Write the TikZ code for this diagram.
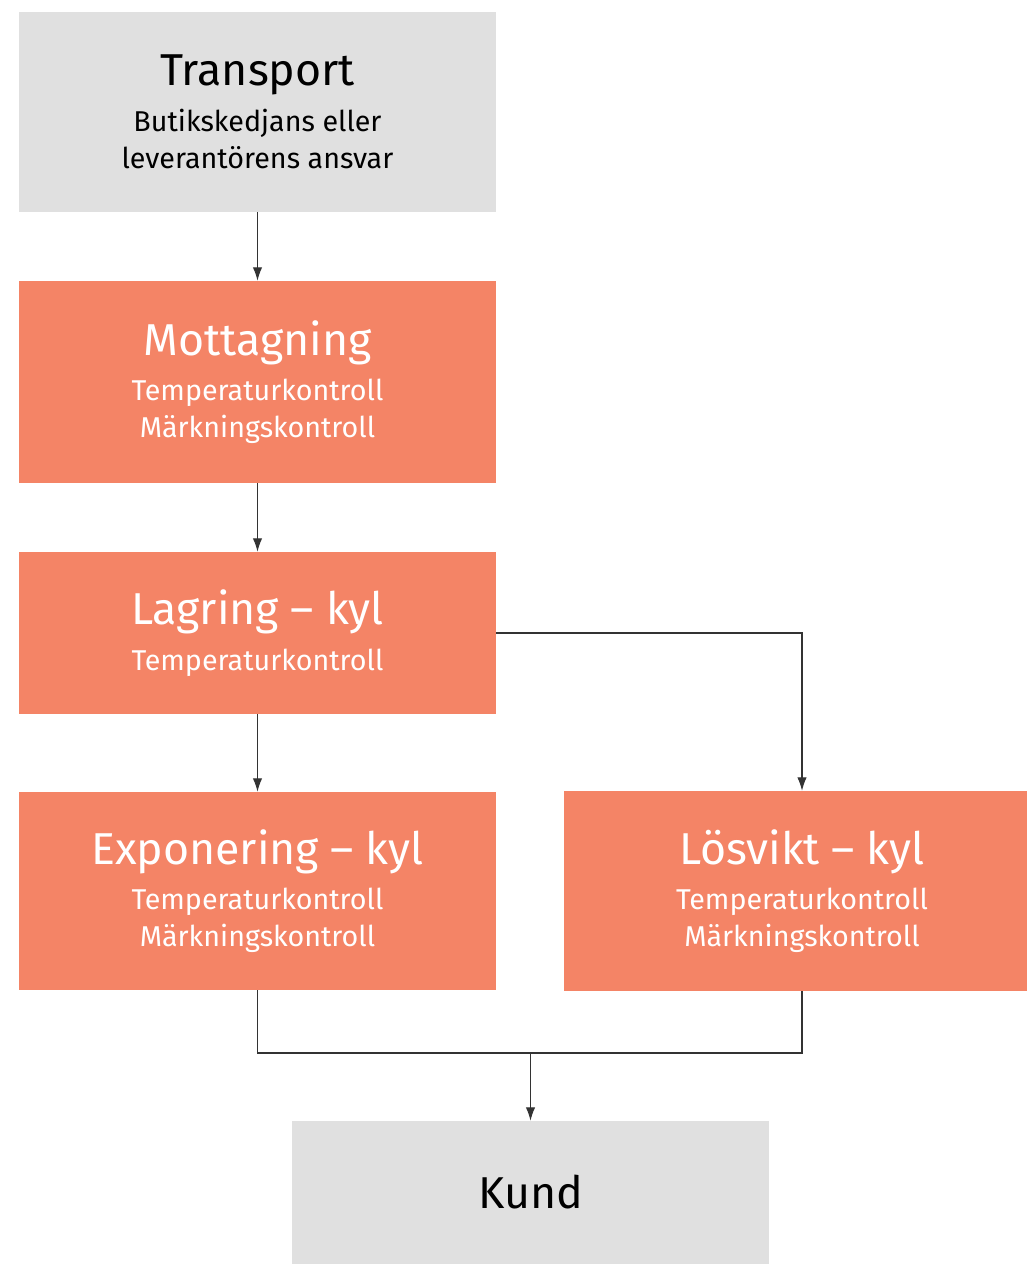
\documentclass[tikz,border=0pt]{standalone}
\usepackage{fontspec}
\setmainfont{Fira Sans}
\usetikzlibrary{shapes,arrows.meta,positioning}
\usepackage{xcolor}
\definecolor{ljusgra}{HTML}{E0E0E0}
\definecolor{laxrosa}{HTML}{F48466}
\definecolor{linje}{HTML}{333333}

\begin{document}
\begin{tikzpicture}[x=0.75pt, y=-0.75pt,
        box/.style={rectangle, minimum width=357.75pt, minimum height=150pt, inner sep=0pt, align=center,
            font=\fontsize{21.5}{28}\selectfont},
        grabox/.style={box, fill=ljusgra, text=black},
        orangebox/.style={box, fill=laxrosa, text=white},
        pil/.style={draw=linje, line width=0.8pt, -{Latex[length=10pt,width=7pt]}},
        linjer/.style={draw=linje, line width=0.8pt}]
        \useasboundingbox (0,0) rectangle (1027,1264);

        \newcommand{\rubrik}[1]{{\fontsize{33.5}{33.5}\selectfont #1}}

        \node[grabox] (transport) at (257.5,112) {\rubrik{Transport}\\[6pt]Butikskedjans eller\\leverantörens ansvar};
        \node[orangebox, minimum height=151.5pt] (mottagning) at (257.5,382) {\rubrik{Mottagning}\\[6pt]Temperaturkontroll\\Märkningskontroll};
        \node[orangebox, minimum height=121.5pt] (lagring) at (257.5,633) {\rubrik{Lagring – kyl}\\[6pt]Temperaturkontroll};
        \node[orangebox, minimum height=148.5pt] (exponering) at (257.5,891) {\rubrik{Exponering – kyl}\\[6pt]Temperaturkontroll\\Märkningskontroll};
        \node[orangebox] (losvikt) at (802,891) {\rubrik{Lösvikt – kyl}\\[6pt]Temperaturkontroll\\Märkningskontroll};
        \node[grabox, minimum height=107.25pt] (kund) at (530.5,1192.5) {\rubrik{Kund}};

        \coordinate (samman) at (530.5,1053);

        \draw[pil] (transport) -- (mottagning);
        \draw[pil] (mottagning) -- (lagring);
        \draw[pil] (lagring) -- (exponering);
        \draw[pil] (lagring.east) -| (losvikt.north);
        \draw[linjer] (exponering.south) |- (samman) -| (losvikt.south);
        \draw[pil] (samman) -- (kund);
    \end{tikzpicture}
\end{document}
